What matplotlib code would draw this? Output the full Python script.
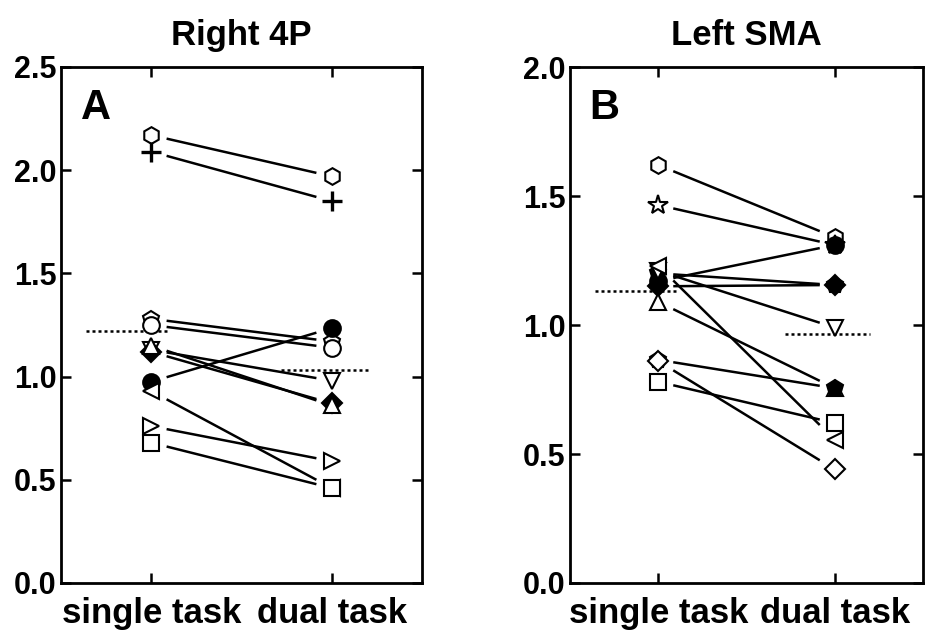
import matplotlib
matplotlib.use("Agg")
import matplotlib.pyplot as plt
import numpy as np

plt.rcParams['font.family'] = ['Liberation Sans', 'DejaVu Sans']
plt.rcParams['font.weight'] = 'bold'

conditions = ["single task", "dual task"]

# Panel A: Right 4P
title_A = "Right 4P"
markers_A = ['h', '+', 'p', 'o', 'v', 'D', '^', 'o', '<', '>', 's']
filled_A = [False, False, False, False, False, True, False, True, False, False, False]
single_A = [2.17, 2.09, 1.28, 1.25, 1.13, 1.12, 1.15, 0.975, 0.93, 0.76, 0.68]
dual_A = [1.97, 1.85, 1.17, 1.14, 0.98, 0.87, 0.86, 1.235, 0.46, 0.59, 0.46]
means_A = [1.22, 1.03]
yticks_A = [0.0, 0.5, 1.0, 1.5, 2.0, 2.5]

# Panel B: Left SMA
title_B = "Left SMA"
markers_B = ['h', '*', 'o', 'p', 'D', 'v', '<', '^', 'p', 'D', 's']
filled_B = [False, False, True, True, True, False, False, False, True, False, False]
single_B = [1.62, 1.465, 1.17, 1.20, 1.15, 1.21, 1.23, 1.09, 0.865, 0.86, 0.78]
dual_B = [1.34, 1.31, 1.31, 1.155, 1.155, 0.99, 0.555, 0.755, 0.755, 0.44, 0.62]
means_B = [1.13, 0.965]
yticks_B = [0.0, 0.5, 1.0, 1.5, 2.0]

fig = plt.figure(figsize=(9.25, 6.31), dpi=100)
axA = fig.add_axes([61/925, 1-583/631, 361/925, 516/631])
axB = fig.add_axes([570/925, 1-583/631, 353/925, 516/631])

def draw(ax, title, letter, markers, filled, s, d, means, yticks):
    xs = [1, 2]
    g = 0.085
    for m, f, a, b in zip(markers, filled, s, d):
        t0, t1 = g, 1 - g
        ax.plot([1 + t0, 1 + t1], [a + (b - a) * t0, a + (b - a) * t1],
                color='black', lw=1.8, solid_capstyle='butt', zorder=2)
        for x, y in zip(xs, [a, b]):
            if m == '+':
                ax.plot(x, y, marker='+', ms=14, mew=2.4, color='black', ls='none', zorder=3)
            else:
                ms = 12 if m not in ('D', '*') else (10 if m == 'D' else 15)
                ax.plot(x, y, marker=m, ms=ms, mew=1.5, mec='black',
                        mfc='black' if f else 'white', ls='none', zorder=3)
    ax.plot([0.64, 1.1], [means[0], means[0]], ls=(0, (1.2, 1.2)), color='black', lw=1.8, zorder=1)
    ax.plot([1.72, 2.2], [means[1], means[1]], ls=(0, (1.2, 1.2)), color='black', lw=1.8, zorder=1)
    ax.set_xlim(0.5, 2.5)
    ax.set_ylim(yticks[0], yticks[-1])
    ax.set_xticks(xs)
    ax.set_xticklabels(conditions, fontsize=25, fontweight='bold')
    ax.set_yticks(yticks)
    ax.set_yticklabels([f"{v:.1f}" for v in yticks], fontsize=22, fontweight='bold')
    ax.tick_params(direction='in', length=7, width=1.8, top=True, right=True, pad=3)
    ax.tick_params(axis='x', pad=10)
    for sp in ax.spines.values():
        sp.set_linewidth(2.0)
    ax.set_title(title, fontsize=25, fontweight='bold', pad=16)
    ax.text(0.055, 0.96, letter, transform=ax.transAxes, fontsize=30,
            fontweight='bold', va='top', ha='left')

draw(axA, title_A, "A", markers_A, filled_A, single_A, dual_A, means_A, yticks_A)
draw(axB, title_B, "B", markers_B, filled_B, single_B, dual_B, means_B, yticks_B)

fig.savefig("out.png", dpi=100)
